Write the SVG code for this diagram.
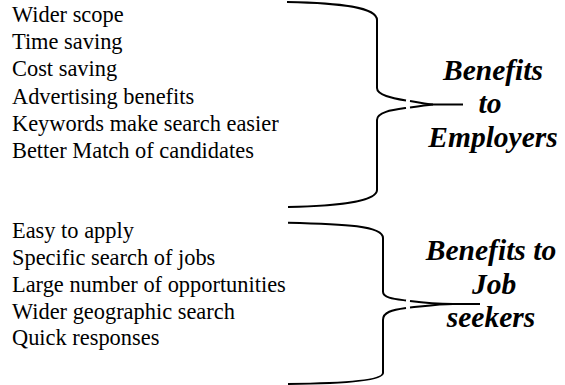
<svg xmlns="http://www.w3.org/2000/svg" width="565" height="385" viewBox="0 0 565 385">
<style>
.item{font-size:22.4px;fill:#000}
.label{font-size:29.5px;font-weight:bold;font-style:italic;fill:#000;text-anchor:middle}
.brace{fill:none;stroke:#000;stroke-width:2}
</style>
<rect width="565" height="385" fill="#fff"/>
<g id="employers-list" font-family="Liberation Serif, Times New Roman, serif">
<text class="item" x="12" y="22">Wider scope</text>
<text class="item" x="12" y="49.2">Time saving</text>
<text class="item" x="12" y="76.4">Cost saving</text>
<text class="item" x="12" y="103.6">Advertising benefits</text>
<text class="item" x="12" y="130.8">Keywords make search easier</text>
<text class="item" x="12" y="158">Better Match of candidates</text>
</g>
<g id="jobseekers-list" font-family="Liberation Serif, Times New Roman, serif">
<text class="item" x="12" y="238">Easy to apply</text>
<text class="item" x="12" y="265">Specific search of jobs</text>
<text class="item" x="12" y="291.7">Large number of opportunities</text>
<text class="item" x="12" y="318.5">Wider geographic search</text>
<text class="item" x="12" y="345">Quick responses</text>
</g>
<g id="connectors">
<g id="brace-employers" class="brace">
<path d="M287,2 C340,3 377,7 377,20 L377,88 C377,95 392,98 406,100.5"/>
<path d="M410,101 C420,102.5 427,104 433,104.5 L463,104.5"/>
<path d="M433,104.5 C427,105 420,106 410,107.5"/>
<path d="M406,108 C392,110 377,112 377,120 L377,190 C377,201 340,206 288,207"/>
</g>
<g id="brace-jobseekers" class="brace">
<path d="M288,222.7 C345,224 383,226 383,238 L383,291.7 C383,298 395,299 406,300.5"/>
<path d="M410,301 C425,303 440,304 453,304 L480,304"/>
<path d="M453,304 C440,304 425,306 410,307.5"/>
<path d="M406,308 C392,310 383,312 383,320 L383,373 C383,381 340,383.5 288,384"/>
</g>
</g>
<g id="label-employers" font-family="Liberation Serif, Times New Roman, serif">
<text class="label" x="493" y="80">Benefits</text>
<text class="label" x="490" y="113">to</text>
<text class="label" x="493" y="147">Employers</text>
</g>
<g id="label-jobseekers" font-family="Liberation Serif, Times New Roman, serif">
<text class="label" x="491" y="260">Benefits to</text>
<text class="label" x="494" y="294">Job</text>
<text class="label" x="491" y="327">seekers</text>
</g>
</svg>
